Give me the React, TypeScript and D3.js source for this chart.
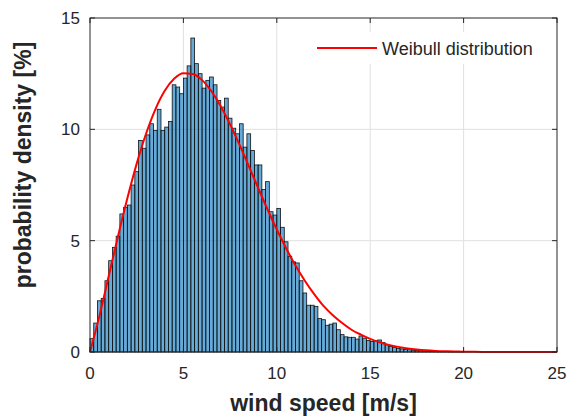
import React from "react";
import * as d3 from "d3";

// Histogram: bin width 0.2 m/s starting at 0 (probability density, %)
const binWidth = 0.2;
const binValues = [
  0.6, 1.3, 2.3, 2.4, 3.2, 4.1, 4.7, 5.2, 6.2, 6.5,
  6.6, 7.5, 8.1, 9.5, 9.15, 9.75, 10.25, 9.95, 10.9, 9.95,
  10.1, 10.35, 12.0, 11.9, 11.6, 12.3, 12.85, 14.1, 12.95, 12.5,
  11.85, 12.2, 12.35, 12.0, 11.3, 11.0, 11.4, 10.5, 10.05, 9.8,
  10.25, 9.2, 9.8, 9.05, 8.4, 8.4, 7.3, 7.65, 6.3, 6.15,
  6.45, 5.6, 4.95, 4.3, 4.05, 4.0, 3.2, 2.65, 2.1, 2.1,
  2.05, 1.5, 1.45, 1.2, 1.25, 1.3, 1.0, 0.78, 0.68, 0.66,
  0.66, 0.58, 0.72, 0.62, 0.52, 0.47, 0.5, 0.54, 0.42, 0.32,
  0.25, 0.21, 0.16, 0.14, 0.12, 0.1, 0.08, 0.07, 0.06, 0.05,
  0.04, 0.04, 0.03, 0.03, 0.02, 0.02, 0.02, 0.01, 0.01, 0.01,
];

// Weibull distribution curve
const curveX = [
  0, 0.5, 1, 1.5, 2, 2.5, 3, 3.5, 4, 4.5, 5, 5.5, 6, 6.5, 7, 7.5, 8, 8.5, 9, 9.5,
  10, 10.5, 11, 11.5, 12, 12.5, 13, 13.5, 14, 14.5, 15, 15.5, 16, 16.5, 17, 17.5,
  18, 18.5, 19, 19.5, 20, 21, 22, 23, 24, 25,
];
const curveY = [
  0, 1.6, 3.4, 5.2, 6.9, 8.46, 9.8, 10.9, 11.73, 12.27, 12.52, 12.49, 12.21, 11.71,
  11.04, 10.22, 9.31, 8.35, 7.37, 6.41, 5.5, 4.66, 3.88, 3.2, 2.6, 2.07, 1.65, 1.3,
  1.0, 0.78, 0.59, 0.44, 0.32, 0.23, 0.16, 0.11, 0.075, 0.05, 0.033, 0.021, 0.013,
  0.005, 0.002, 0.001, 0, 0,
];

const xTicks = [0, 5, 10, 15, 20, 25];
const yTicks = [0, 5, 10, 15];
const xLabel = "wind speed [m/s]";
const yLabel = "probability density [%]";
const legendLabel = "Weibull distribution";

const W = 572;
const H = 417;
const M = { left: 90, right: 15, top: 18, bottom: 65 };
const FONT = "'Liberation Sans', Arial, Helvetica, sans-serif";
const AX = "#262626";

export default function App() {
  const x = d3.scaleLinear().domain([0, 25]).range([M.left, W - M.right]);
  const y = d3.scaleLinear().domain([0, 15]).range([H - M.bottom, M.top]);
  const line = d3
    .line<number>()
    .x((_, i) => x(curveX[i]))
    .y((d) => y(d))
    .curve(d3.curveMonotoneX);
  const x0 = x(0), x1 = x(25), y0 = y(0), y1 = y(15);
  const tl = 5;

  return (
    <svg
      width={W}
      height={H}
      style={{ position: "absolute", left: 0, top: 0, background: "#fff" }}
      fontFamily={FONT}
    >
      {/* grid */}
      {xTicks.slice(1, -1).map((t) => (
        <line key={"gx" + t} x1={x(t)} x2={x(t)} y1={y0} y2={y1} stroke="#e0e0e0" strokeWidth={1} />
      ))}
      {yTicks.slice(1, -1).map((t) => (
        <line key={"gy" + t} x1={x0} x2={x1} y1={y(t)} y2={y(t)} stroke="#e0e0e0" strokeWidth={1} />
      ))}
      {/* bars */}
      {binValues.map((v, i) => (
        <rect
          key={"b" + i}
          x={x(i * binWidth)}
          y={y(v)}
          width={x((i + 1) * binWidth) - x(i * binWidth)}
          height={y0 - y(v)}
          fill="#0072BD"
          fillOpacity={0.6}
          stroke="#111"
          strokeWidth={0.8}
        />
      ))}
      {/* legend */}
      <rect x={309} y={32} width={240} height={32} fill="#fff" />
      <line x1={317} x2={377} y1={48} y2={48} stroke="#ff0000" strokeWidth={2} />
      <text x={382} y={54.5} fontSize={18} fill={AX}>{legendLabel}</text>
      {/* curve */}
      <path d={line(curveY) || ""} fill="none" stroke="#ff0000" strokeWidth={2} />
      {/* axes box */}
      <rect x={x0} y={y1} width={x1 - x0} height={y0 - y1} fill="none" stroke={AX} strokeWidth={1} />
      {xTicks.map((t) => (
        <g key={"xt" + t}>
          <line x1={x(t)} x2={x(t)} y1={y0} y2={y0 - tl} stroke={AX} />
          <line x1={x(t)} x2={x(t)} y1={y1} y2={y1 + tl} stroke={AX} />
          <text x={x(t)} y={y0 + 27} fontSize={17} textAnchor="middle" fill={AX}>{t}</text>
        </g>
      ))}
      {yTicks.map((t) => (
        <g key={"yt" + t}>
          <line x1={x0} x2={x0 + tl} y1={y(t)} y2={y(t)} stroke={AX} />
          <line x1={x1} x2={x1 - tl} y1={y(t)} y2={y(t)} stroke={AX} />
          <text x={x0 - 10} y={y(t) + 6} fontSize={17} textAnchor="end" fill={AX}>{t}</text>
        </g>
      ))}
      <text x={(x0 + x1) / 2} y={411} fontSize={23} fontWeight="bold" textAnchor="middle" fill={AX}>
        {xLabel}
      </text>
      <text
        transform={`translate(31, ${(y0 + y1) / 2 - 20}) rotate(-90)`}
        fontSize={23}
        fontWeight="bold"
        textAnchor="middle"
        fill={AX}
      >
        {yLabel}
      </text>
    </svg>
  );
}
